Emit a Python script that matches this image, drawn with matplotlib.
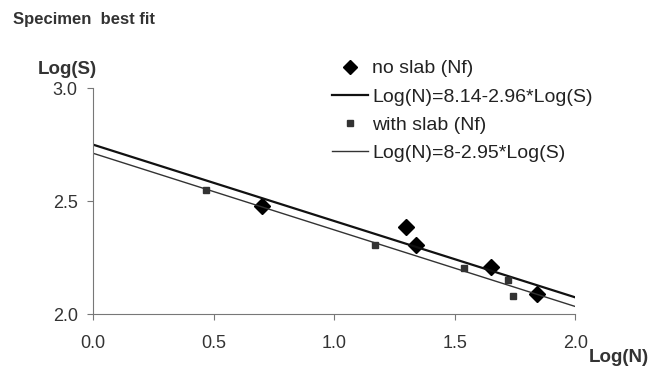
import numpy as np
import matplotlib.pyplot as plt

plt.rcParams['font.family'] = ['Liberation Sans', 'DejaVu Sans']

# measured points (Log(N), Log(S))
no_slab_logn = [0.70, 1.30, 1.34, 1.65, 1.84]
no_slab_logs = [2.48, 2.385, 2.305, 2.21, 2.088]
slab_logn = [0.47, 1.17, 1.54, 1.72, 1.74]
slab_logs = [2.55, 2.305, 2.205, 2.15, 2.08]

# best fit lines: Log(N) = a - b*Log(S)
fit_no_slab = (8.14, 2.96)
fit_slab = (8.0, 2.95)

fig = plt.figure(figsize=(6.5, 3.67), dpi=100)
ax = fig.add_axes([0.143, 0.144, 0.742, 0.616])

xs = np.array([0.0, 2.0])
h1, = ax.plot(no_slab_logn, no_slab_logs, 'D', color='black', ms=8, ls='none',
              label='no slab (Nf)')
l1, = ax.plot(xs, (fit_no_slab[0] - xs) / fit_no_slab[1], color='#111111', lw=1.6,
              label='Log(N)=8.14-2.96*Log(S)')
h2, = ax.plot(slab_logn, slab_logs, 's', color='#333333', ms=4.5, ls='none',
              label='with slab (Nf)')
l2, = ax.plot(xs, (fit_slab[0] - xs) / fit_slab[1], color='#333333', lw=1.0,
              label='Log(N)=8-2.95*Log(S)')

ax.set_xlim(0, 2.0)
ax.set_ylim(2.0, 3.0)
ax.set_xticks([0.0, 0.5, 1.0, 1.5, 2.0])
ax.set_yticks([2.0, 2.5, 3.0])
ax.xaxis.set_major_formatter(plt.FormatStrFormatter('%.1f'))
ax.yaxis.set_major_formatter(plt.FormatStrFormatter('%.1f'))
for s in ['top', 'right']:
    ax.spines[s].set_visible(False)
for s in ['left', 'bottom']:
    ax.spines[s].set_color('#777777')
ax.tick_params(colors='#777777', labelcolor='#333333', labelsize=13, length=4)
ax.tick_params(axis='x', pad=11)
ax.tick_params(axis='y', pad=7)

fig.text(0.02, 0.948, 'Specimen  best fit', fontsize=12, fontweight='bold',
         color='#333333', va='center')
fig.text(0.058, 0.811, 'Log(S)', fontsize=13.5, fontweight='bold', color='#333333',
         va='center')
fig.text(0.905, 0.027, 'Log(N)', fontsize=13.5, fontweight='bold', color='#333333',
         va='center')

fig.legend(handles=[h1, l1, h2, l2], loc='upper left', bbox_to_anchor=(0.484, 0.885),
           frameon=False, fontsize=14, handlelength=1.85, handletextpad=0.2,
           labelspacing=0.55, labelcolor='#222222', markerscale=0.85)

fig.savefig('out.png', dpi=100)
